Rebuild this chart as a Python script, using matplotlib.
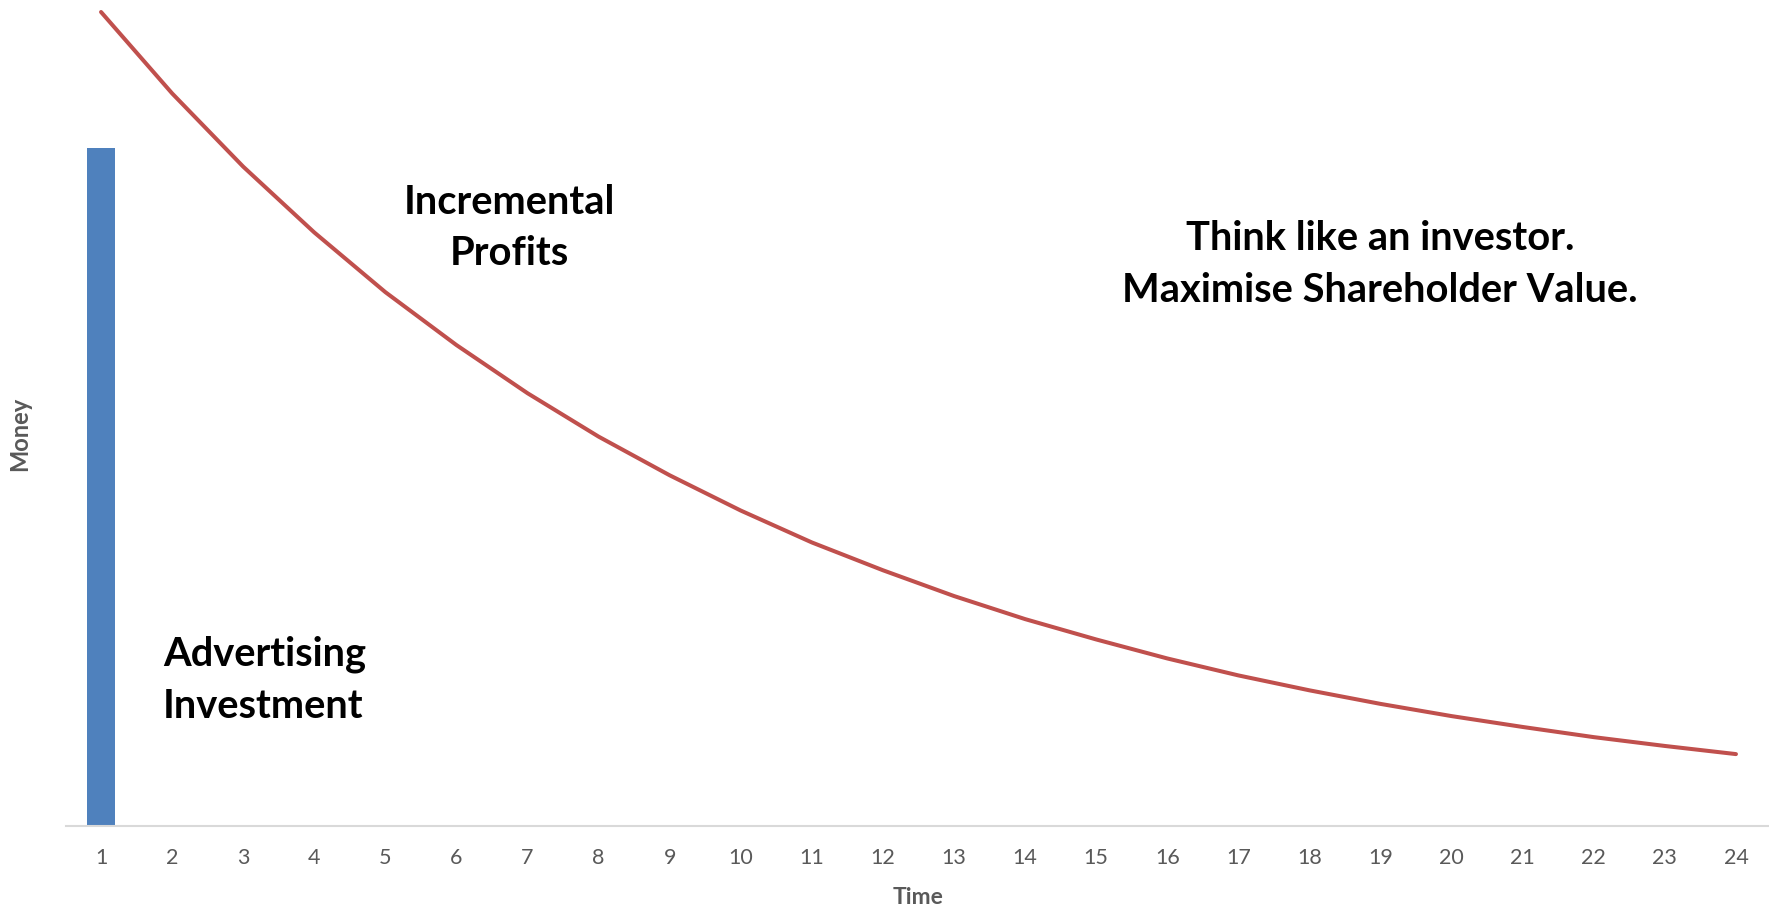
import matplotlib
matplotlib.use("Agg")
import matplotlib.pyplot as plt

# ── Data ──────────────────────────────────────────────────────────────────────
periods = list(range(1, 25))
investment = [100] + [0] * 23
profits = [120.0, 108.0, 97.2, 87.5, 78.7, 70.9, 63.8, 57.4, 51.7, 46.5, 41.8, 37.7,
           33.9, 30.5, 27.5, 24.7, 22.2, 20.0, 18.0, 16.2, 14.6, 13.1, 11.8, 10.6]

BAR_COLOR = "#4f81bd"
LINE_COLOR = "#c0504d"
AXIS_GREY = "#595959"

plt.rcParams["font.family"] = ["Lato", "DejaVu Sans"]

W, H = 1769, 907
fig = plt.figure(figsize=(W / 100, H / 100), dpi=100)
ax = fig.add_axes([65.5 / W, 81 / H, 1706 / W, 814 / H])

ax.bar(periods, investment, width=0.4, color=BAR_COLOR, zorder=2)
ax.plot(periods, profits, color=LINE_COLOR, lw=2.9, solid_capstyle="round",
        clip_on=False, zorder=3)

ax.set_xlim(0.5, 24.5)
ax.set_ylim(0, 120)
ax.set_xticks(periods)
ax.set_xticklabels([str(p) for p in periods])
ax.tick_params(axis="x", length=0, pad=16, labelsize=15.5, labelcolor=AXIS_GREY)
ax.set_yticks([])

for side in ("top", "right", "left"):
    ax.spines[side].set_visible(False)
ax.spines["bottom"].set_color("#d9d9d9")
ax.spines["bottom"].set_linewidth(1.5)

# axis titles
fig.text(20 / W, 1 - 434 / H, "Money", rotation=90, ha="center", va="center",
         fontsize=17, fontweight="bold", color=AXIS_GREY)
fig.text(918 / W, 1 - 897 / H, "Time", ha="center", va="center",
         fontsize=16.5, fontweight="bold", color=AXIS_GREY)

# annotations
note = dict(fontsize=28.7, fontweight="bold", color="black", linespacing=1.48,
            va="center")
ax.text(6.75, 88.2, "Incremental\nProfits", ha="center", multialignment="center", **note)
ax.text(18.99, 82.8, "Think like an investor.\nMaximise Shareholder Value.",
        ha="center", multialignment="center", **note)
ax.text(1.87, 21.5, "Advertising\nInvestment", ha="left", **note)

fig.savefig("out.png", dpi=100)
